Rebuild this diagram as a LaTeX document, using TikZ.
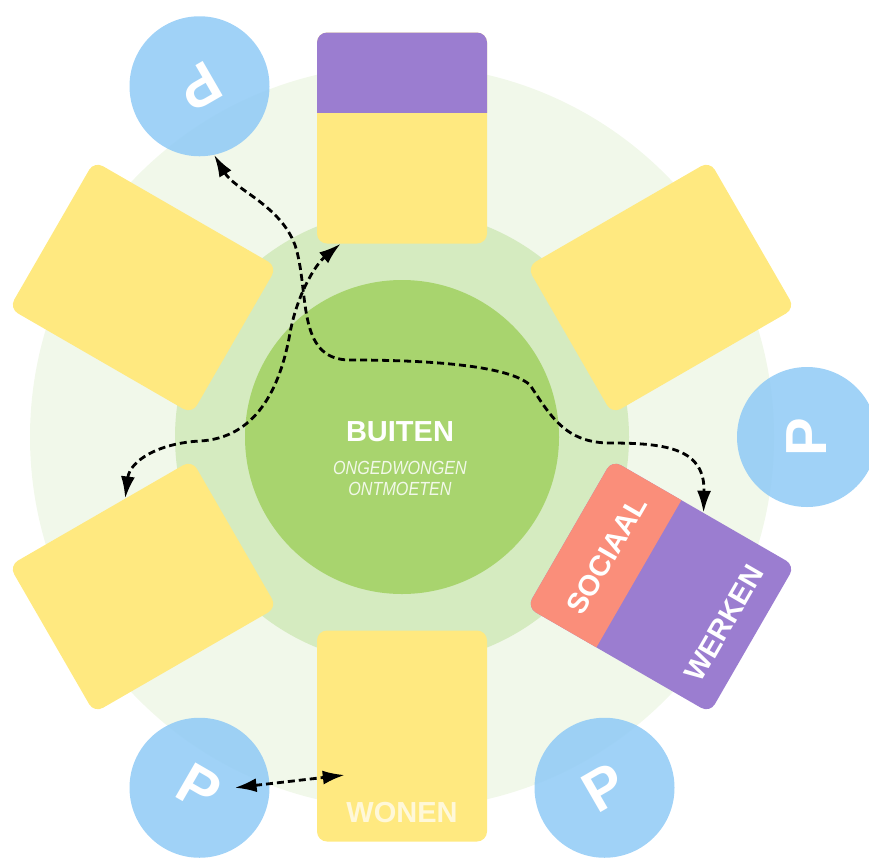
\documentclass[tikz,border=0pt]{standalone}
\usepackage{graphicx}
\usepackage{fontspec}
\setmainfont{Liberation Sans}
\usetikzlibrary{arrows.meta,calc,positioning}
\definecolor{ringbuiten}{RGB}{241,248,234}
\definecolor{ringmidden}{RGB}{213,235,192}
\definecolor{groen}{RGB}{168,212,110}
\definecolor{geel}{RGB}{255,233,128}
\definecolor{paars}{RGB}{155,125,208}
\definecolor{zalm}{RGB}{250,142,122}
\definecolor{pblauw}{RGB}{143,202,246}

\tikzset{
  vak/.style={fill=geel, rounded corners=10pt, minimum width=170pt, minimum height=211pt, inner sep=0pt},
  parkeer/.style={circle, fill=pblauw, fill opacity=0.85, text opacity=1, text=white, minimum size=140pt, inner sep=0pt, font=\bfseries\fontsize{58}{58}\selectfont},
  etiket/.style={text=white, inner sep=0pt, font=\bfseries\fontsize{29}{29}\selectfont},
  pijl/.style={black, line width=2.8pt, dash pattern=on 7pt off 4pt, {Latex[length=22pt,width=14pt]}-{Latex[length=22pt,width=14pt]}}
}

\begin{document}
\begin{tikzpicture}[x=1pt, y=1pt]
  \useasboundingbox (0,0) rectangle (869,-857);
  \coordinate (O) at (402,-437);

  % ringen
  \fill[ringbuiten] (O) circle (372pt);
  \fill[ringmidden] (O) circle (227pt);
  \fill[groen] (O) circle (157pt);

  % vakken rondom
  \node[vak] (boven) at ($(O)+(90:299)$) {};
  \node[vak, rotate=-60] (rechtsboven) at ($(O)+(30:299)$) {};
  \node[vak, fill=paars, rotate=-120] (werken) at ($(O)+(-30:299)$) {};
  \node[vak] (wonen) at ($(O)+(-90:299)$) {};
  \node[vak, rotate=120] (linksonder) at ($(O)+(210:299)$) {};
  \node[vak, rotate=60] (linksboven) at ($(O)+(150:299)$) {};

  % gekleurde stroken
  \begin{scope}[shift={(boven.center)}]
    \clip[rounded corners=10pt] (-85,-105.5) rectangle (85,105.5);
    \fill[paars] (-86,25.5) rectangle (86,106);
  \end{scope}
  \begin{scope}[shift={(werken.center)}, rotate=-120]
    \clip[rounded corners=10pt] (-85,-105.5) rectangle (85,105.5);
    \fill[zalm] (-86,-106) rectangle (86,-25.5);
  \end{scope}

  % teksten
  \node[etiket] (buiten) at (400,-432) {BUITEN};
  \node[below=19pt of buiten, align=center, inner sep=0pt, text=white, text opacity=0.85,
        font=\itshape\fontsize{19}{21}\selectfont] (ontmoeten)
        {\scalebox{0.85}[1]{ONGEDWONGEN}\\\scalebox{0.85}[1]{ONTMOETEN}};
  \node[etiket, rotate=60] (sociaaltekst) at ($(werken.center)!0.59!(werken.south)$) {SOCIAAL};
  \node[etiket, rotate=60] (werkentekst) at ($(werken.center)!0.69!(werken.north)$) {WERKEN};
  \node[etiket, text=white!70!geel] (wonentekst) at ($(wonen.center)!0.72!(wonen.south)$) {WONEN};

  % parkeren
  \node[parkeer] (p1) at ($(O)+(120:405)$) {\rotatebox{210}{P}};
  \node[parkeer] (p2) at ($(O)+(0:405)$) {\rotatebox{90}{P}};
  \node[parkeer] (p3) at ($(O)+(-60:405)$) {\rotatebox{30}{P}};
  \node[parkeer] (p4) at ($(O)+(-120:405)$) {\rotatebox{-30}{P}};

  % looproutes
  \draw[pijl] (p1.-78) .. controls (235,-190) and (280,-205) .. (295,-245)
    .. controls (310,-290) and (295,-360) .. (350,-360)
    .. controls (400,-360) and (505,-362) .. (530,-385)
    .. controls (550,-415) and (565,-443) .. (610,-443)
    .. controls (670,-443) and (705,-450) .. (werken.west);
  \draw[pijl] ($(linksonder.east)!0.27!(linksonder.south east)$)
    .. controls (130,-460) and (160,-443) .. (200,-441)
    .. controls (255,-438) and (280,-390) .. (290,-333)
    .. controls (297,-295) and (315,-265) .. ($(boven.south west)!0.14!(boven.south east)$);
  \draw[pijl] ($(p4.center)!0.5!(p4.east)$) -- ($(wonen.west)+(28,-39)$);
\end{tikzpicture}
\end{document}
